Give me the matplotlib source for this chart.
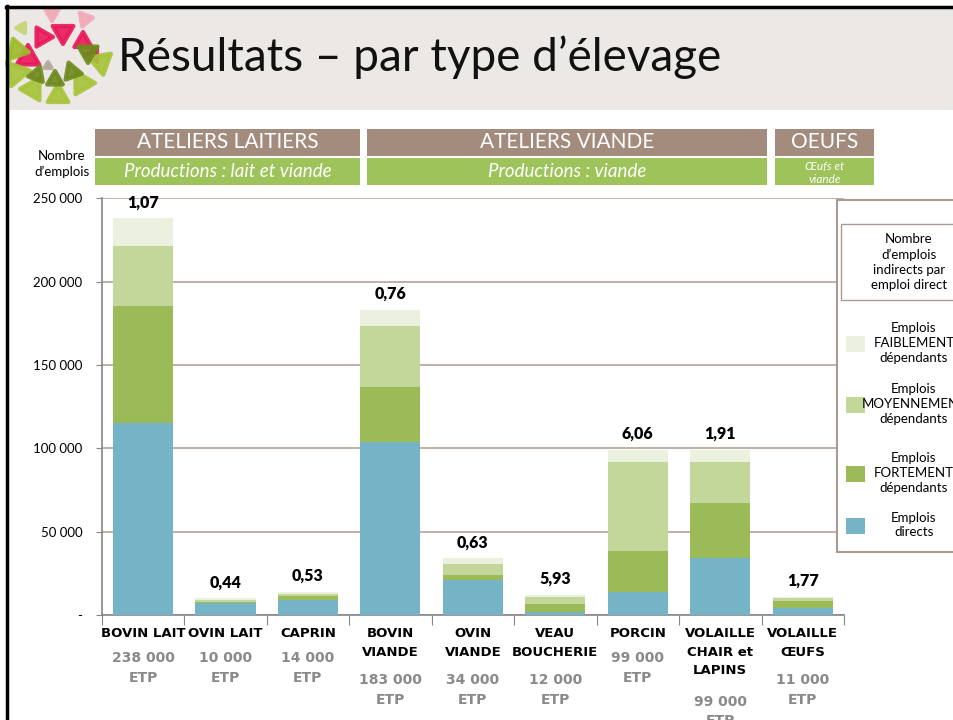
import numpy as np
import matplotlib
matplotlib.use("Agg")
import matplotlib.pyplot as plt
from matplotlib.patches import Rectangle, Polygon
from matplotlib import transforms

# ---- data ----
categories = ["BOVIN LAIT", "OVIN LAIT", "CAPRIN", "BOVIN\nVIANDE", "OVIN\nVIANDE",
              "VEAU\nBOUCHERIE", "PORCIN", "VOLAILLE\nCHAIR et\nLAPINS", "VOLAILLE\nŒUFS"]
etp = ["238 000", "10 000", "14 000", "183 000", "34 000", "12 000", "99 000", "99 000", "11 000"]
directs = [115000, 6900, 9150, 104000, 20900, 1730, 14000, 34000, 3970]
fortement = [70500, 800, 2000, 32800, 3100, 5000, 24500, 33000, 4630]
moyennement = [36000, 1400, 1600, 36600, 6600, 4000, 53000, 25000, 1600]
faiblement = [16500, 900, 1250, 9600, 3400, 1270, 7500, 7000, 800]
ratios = ["1,07", "0,44", "0,53", "0,76", "0,63", "5,93", "6,06", "1,91", "1,77"]
yticks = [0, 50000, 100000, 150000, 200000, 250000]
ytick_labels = ["-", "50 000", "100 000", "150 000", "200 000", "250 000"]

groups = ["ATELIERS LAITIERS", "ATELIERS VIANDE", "OEUFS"]
group_sub = ["Productions : lait et viande", "Productions : viande", "Œufs et\nviande"]

C_DIR = "#75b4c6"
C_FORT = "#9bbb59"
C_MOY = "#c4d79b"
C_FAIB = "#ebf1de"
BROWN = "#a38c7e"
GREEN = "#9dc35a"
GRID = "#b5a398"

W, H = 954, 720
plt.rcParams['font.family'] = ['Lato', 'DejaVu Sans']

fig = plt.figure(figsize=(W / 100, H / 100), dpi=100)


def fx(x):
    return x / W


def fy(y):
    return 1 - y / H


def frect(x0, y0, x1, y1, **kw):
    r = Rectangle((fx(x0), fy(y1)), (x1 - x0) / W, (y1 - y0) / H,
                  transform=fig.transFigure, **kw)
    fig.add_artist(r)
    return r


# slide frame and title band
frect(8, 8, 960, 110, facecolor="#ece8e5", edgecolor="none", zorder=0)
fig.add_artist(plt.Line2D([fx(7), fx(7)], [fy(6), fy(725)], transform=fig.transFigure,
                          color="black", lw=2.5))
fig.add_artist(plt.Line2D([fx(6), fx(960)], [fy(7), fy(7)], transform=fig.transFigure,
                          color="black", lw=2.5))

# logo: ring of triangles
logo = [(52, 13, 8, "#f2a9b8", 180), (85, 19, 8, "#f2a9b8", 200), (22, 28, 6, "#c8d67a", 150),
        (42, 37, 11, "#e8185a", 210), (63, 32, 12, "#e8185a", 180), (83, 42, 10, "#e8185a", 240),
        (28, 58, 13, "#e8185a", 120), (93, 55, 8, "#e8185a", 270), (17, 50, 12, "#9fbb2a", 100),
        (16, 73, 14, "#a7c43a", 80), (33, 89, 13, "#a7c43a", 30), (58, 96, 12, "#a7c43a", 0),
        (82, 83, 13, "#a7c43a", 330), (101, 62, 13, "#a7c43a", 290), (37, 75, 9, "#6f8a1e", 20),
        (55, 80, 9, "#6f8a1e", 0), (72, 72, 10, "#6f8a1e", 340), (88, 52, 11, "#6f8a1e", 300),
        (48, 66, 4, "#b4a89c", 0)]
for cx, cy, r, col, ang in logo:
    a = np.deg2rad(ang)
    pts = []
    for k in range(3):
        t = a + k * 2 * np.pi / 3
        pts.append((fx(cx + r * np.sin(t)), fy(cy - r * np.cos(t))))
    fig.add_artist(Polygon(pts, closed=True, transform=fig.transFigure, facecolor=col,
                           edgecolor=col, lw=3, alpha=0.9, joinstyle="round"))

fig.text(fx(118), fy(57), "Résultats – par type d’élevage", fontsize=33,
         ha="left", va="center", color="#111111")

# group headers
spans = [(95, 360), (367, 767), (775, 874)]
for (x0, x1), g, s in zip(spans, groups, group_sub):
    frect(x0, 129, x1, 155.5, facecolor=BROWN, edgecolor="none")
    gr = frect(x0, 158, x1, 184.5, facecolor=GREEN, edgecolor="none")
    fig.text(fx((x0 + x1) / 2), fy(142.5), g, fontsize=15,
             color="white", ha="center", va="center")
    if "\n" in s:
        t = fig.text(fx((x0 + x1) / 2), fy(173), s, fontsize=8.5, style="italic",
                     color="white", ha="center", va="center", linespacing=1.25)
        t.set_clip_path(gr)
    else:
        fig.text(fx((x0 + x1) / 2), fy(171.5), s, fontsize=13.5, style="italic",
                 color="white", ha="center", va="center")

fig.text(fx(62), fy(164), "Nombre\nd’emplois", fontsize=9.5, ha="center", va="center",
         linespacing=1.35)

# chart
ax = fig.add_axes([fx(101.7), fy(615), (844 - 101.7) / W, (615 - 198.3) / H])
x = np.arange(len(categories))
bw = 0.73
b1 = np.array(directs)
b2 = b1 + np.array(fortement)
b3 = b2 + np.array(moyennement)
ax.bar(x, directs, bw, color=C_DIR, zorder=3)
ax.bar(x, fortement, bw, bottom=b1, color=C_FORT, zorder=3)
ax.bar(x, moyennement, bw, bottom=b2, color=C_MOY, zorder=3)
ax.bar(x, faiblement, bw, bottom=b3, color=C_FAIB, zorder=3)
totals = b3 + np.array(faiblement)
for xi, tot, lab in zip(x, totals, ratios):
    ax.annotate(lab, (xi, tot), xytext=(0, 11.5), textcoords="offset points",
                ha="center", va="center", fontsize=11.5, fontweight="heavy")

ax.set_xlim(-0.5, len(categories) - 0.5)
ax.set_ylim(0, 250000)
ax.set_yticks(yticks)
ax.set_yticklabels(ytick_labels, fontsize=9.5)
ax.tick_params(axis="y", length=4, color="#868686", pad=10)
ax.set_xticks(np.arange(-0.5, len(categories), 1.0))
ax.set_xticklabels([])
ax.tick_params(axis="x", length=7, color="#868686", direction="out")
ax.grid(axis="y", color=GRID, lw=1.2, zorder=0)
for sp in ["top", "right"]:
    ax.spines[sp].set_visible(False)
for sp in ["left", "bottom"]:
    ax.spines[sp].set_color("#868686")
    ax.spines[sp].set_linewidth(1.2)

# category labels under the axis
trans = transforms.blended_transform_factory(ax.transData, fig.transFigure)
for xi, name, e in zip(x, categories, etp):
    n = name.count("\n") + 1
    ax.text(xi, fy(627), name, transform=trans, ha="center", va="top", fontsize=9.5,
            fontweight="bold", linespacing=1.55, family=["Liberation Sans Narrow", "DejaVu Sans"])
    ax.text(xi, fy(627 + 21.5 * n + 3), e + "\nETP", transform=trans, ha="center", va="top",
            fontsize=10, fontweight="bold", color="#8a8a8a", linespacing=1.5,
            family=["Liberation Sans Narrow", "DejaVu Sans"])

# legend box (cut by the slide edge)
frect(837, 200, 962, 552, facecolor="white", edgecolor="#a99b91", lw=1.5, zorder=5)
frect(841, 224, 962, 300, facecolor="white", edgecolor="#a99b91", lw=1.0, zorder=6)
fig.text(fx(909), fy(262), "Nombre\nd’emplois\nindirects par\nemploi direct", fontsize=9.5,
         ha="center", va="center", linespacing=1.3, zorder=7)
legend_items = [("Emplois\nFAIBLEMENT\ndépendants", C_FAIB, 344),
                ("Emplois\nMOYENNEMENT\ndépendants", C_MOY, 405),
                ("Emplois\nFORTEMENT\ndépendants", C_FORT, 474),
                ("Emplois\ndirects", C_DIR, 526)]
for lab, col, yc in legend_items:
    frect(846, yc - 8, 865, yc + 8, facecolor=col, edgecolor="none", zorder=7)
    fig.text(fx(914), fy(yc - 1), lab, fontsize=9.5, ha="center", va="center",
             linespacing=1.3, zorder=7)

fig.savefig("out.png", dpi=100)
